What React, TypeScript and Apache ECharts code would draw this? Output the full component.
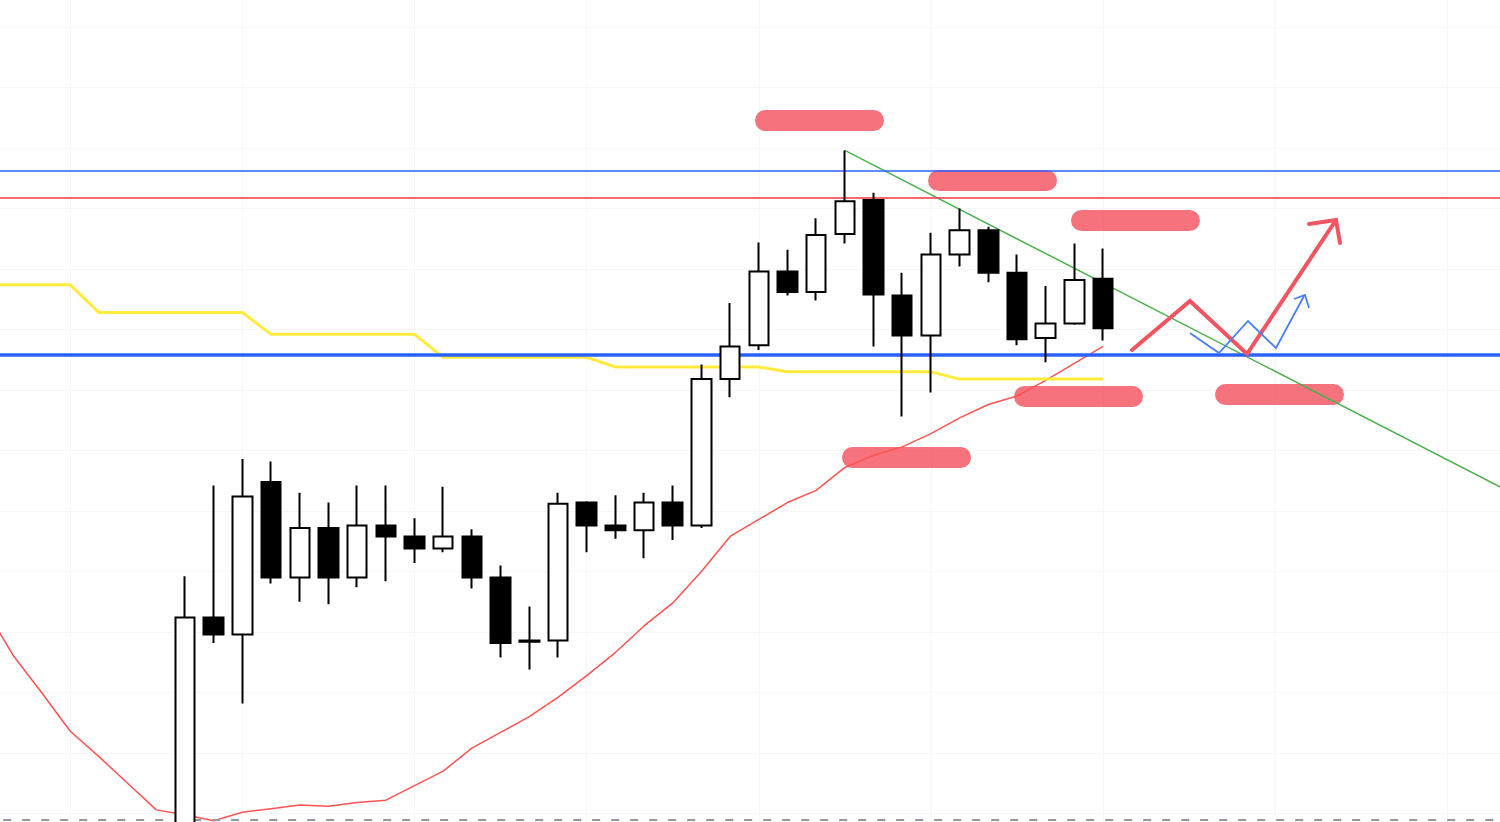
import React, { useEffect, useRef } from "react";
import * as echarts from "echarts";

// Category labels (hidden axis): one per bar slot
const categories = [
  "1", "2", "3", "4", "5", "6", "7", "8", "9", "10",
  "11", "12", "13", "14", "15", "16", "17", "18", "19", "20",
  "21", "22", "23", "24", "25", "26", "27", "28", "29", "30",
  "31", "32", "33", "34", "35", "36", "37", "38", "39", "40",
  "41", "42", "43", "44", "45", "46", "47", "48", "49", "50",
  "51", "52", "53", "54",
];

// Candles begin at slot 7 (earlier ones are below the visible area)
const firstCandleSlot = 7;
// [open, close, low, high]
const candles = [
  [138.95, 141.12, 138.87, 141.46],
  [141.12, 140.98, 140.91, 142.21],
  [140.98, 142.12, 140.41, 142.43],
  [142.24, 141.45, 141.40, 142.41],
  [141.45, 141.86, 141.25, 142.15],
  [141.86, 141.45, 141.23, 142.07],
  [141.45, 141.88, 141.37, 142.21],
  [141.88, 141.79, 141.42, 142.21],
  [141.79, 141.69, 141.57, 141.94],
  [141.69, 141.79, 141.66, 142.20],
  [141.79, 141.45, 141.36, 141.85],
  [141.45, 140.91, 140.79, 141.55],
  [140.93, 140.92, 140.69, 141.21],
  [140.93, 142.06, 140.79, 142.15],
  [142.07, 141.88, 141.66, 142.08],
  [141.88, 141.84, 141.77, 142.13],
  [141.84, 142.07, 141.61, 142.15],
  [142.07, 141.88, 141.76, 142.21],
  [141.88, 143.09, 141.86, 143.21],
  [143.09, 143.36, 142.94, 143.72],
  [143.37, 143.98, 143.33, 144.22],
  [143.98, 143.81, 143.78, 144.16],
  [143.81, 144.28, 143.74, 144.42],
  [144.29, 144.56, 144.21, 144.98],
  [144.57, 143.79, 143.36, 144.63],
  [143.78, 143.45, 142.78, 143.97],
  [143.45, 144.12, 142.98, 144.30],
  [144.12, 144.32, 144.02, 144.50],
  [144.32, 143.97, 143.89, 144.35],
  [143.97, 143.42, 143.37, 144.12],
  [143.43, 143.55, 143.23, 143.86],
  [143.55, 143.91, 143.54, 144.21],
  [143.92, 143.51, 143.41, 144.17],
];

// Moving average (red thin line), slots 0..39
const movingAverage = [
  141.21, 140.81, 140.50, 140.18, 139.97, 139.75, 139.53, 139.49, 139.44, 139.51,
  139.54, 139.57, 139.56, 139.59, 139.61, 139.73, 139.85, 140.04, 140.17, 140.30,
  140.46, 140.64, 140.83, 141.05, 141.24, 141.50, 141.79, 141.93, 142.07, 142.17,
  142.36, 142.46, 142.53, 142.64, 142.77, 142.88, 142.95, 143.08, 143.22, 143.36,
];

// Yellow base line, slots 0..39
const baseLine = [
  143.87, 143.87, 143.87, 143.87, 143.64, 143.64, 143.64, 143.64, 143.64, 143.64,
  143.46, 143.46, 143.46, 143.46, 143.46, 143.46, 143.27, 143.27, 143.27, 143.27,
  143.27, 143.27, 143.19, 143.19, 143.19, 143.19, 143.19, 143.19, 143.15, 143.15,
  143.15, 143.15, 143.15, 143.15, 143.09, 143.09, 143.09, 143.09, 143.09, 143.09,
];

// Horizontal levels
const upperBlueLevel = 144.81;
const redLevel = 144.59;
const supportLevel = 143.29;
const dashedLevel = 139.45;

// Green down trend line: [slot, price]
const trendPoints = [
  [30, 144.98],
  [53, 142.18],
];

// Axis range
const yMin = 139;
const yMax = 147;
const yStep = 0.5;

const pillColor = "rgba(242,54,69,0.7)";
const pills = [
  { x: 755, y: 110 },
  { x: 928, y: 170 },
  { x: 1071, y: 210 },
  { x: 842, y: 447 },
  { x: 1014, y: 386 },
  { x: 1215, y: 384 },
];

// The chart canvas is larger than the viewport; this is its offset
const OFFSET_X = 16;
const OFFSET_Y = 94;

export default function App() {
  const ref = useRef<HTMLDivElement>(null);

  useEffect(() => {
    if (!ref.current) return;
    const chart = echarts.init(ref.current, undefined, { renderer: "svg" });

    const emptyCandle = ["-", "-", "-", "-"];
    const candleData: any[] = [];
    for (let i = 0; i < firstCandleSlot; i++) candleData.push(emptyCandle);
    candles.forEach((c) => candleData.push(c));

    const pillElements = pills.map((p) => ({
      type: "rect",
      z: 1,
      silent: true,
      shape: { x: p.x, y: p.y, width: 129, height: 21, r: 10.5 },
      style: { fill: pillColor },
    }));

    const option: any = {
      animation: false,
      backgroundColor: "#ffffff",
      grid: { left: 0.17, right: 0.26, top: 0, bottom: 0, containLabel: false },
      xAxis: {
        type: "category",
        data: categories,
        boundaryGap: false,
        axisLine: { show: false },
        axisTick: { show: false },
        axisLabel: { show: false },
        splitLine: {
          show: true,
          interval: (index: number) => (index - 3) % 6 === 0,
          lineStyle: { color: "#f7f7f7", width: 1 },
        },
      },
      yAxis: {
        type: "value",
        min: yMin,
        max: yMax,
        interval: yStep,
        axisLine: { show: false },
        axisTick: { show: false },
        axisLabel: { show: false },
        splitLine: { show: true, lineStyle: { color: "#f7f7f7", width: 1 } },
      },
      series: [
        {
          name: "MA",
          type: "line",
          data: movingAverage,
          symbol: "none",
          z: 2,
          lineStyle: { color: "#ff5252", width: 1.5 },
          markLine: {
            silent: true,
            symbol: ["none", "none"],
            label: { show: false },
            data: [
              { yAxis: upperBlueLevel, lineStyle: { color: "#2962ff", width: 1.5, type: "solid" } },
              { yAxis: redLevel, lineStyle: { color: "#f23645", width: 1.5, type: "solid" } },
              { yAxis: supportLevel, lineStyle: { color: "#2962ff", width: 3.5, type: "solid" } },
              { yAxis: dashedLevel, lineStyle: { color: "#9598a1", width: 2, type: [8, 11] } },
            ],
          },
        },
        {
          name: "Base",
          type: "line",
          data: baseLine,
          symbol: "none",
          z: 2,
          lineStyle: { color: "#ffeb3b", width: 3 },
        },
        {
          name: "Trend",
          type: "line",
          data: trendPoints,
          symbol: "none",
          z: 3,
          lineStyle: { color: "#4caf50", width: 1.5 },
        },
        {
          name: "Price",
          type: "candlestick",
          data: candleData,
          barWidth: 20,
          z: 5,
          itemStyle: {
            color: "#ffffff",
            color0: "#000000",
            borderColor: "#000000",
            borderColor0: "#000000",
            borderWidth: 2,
          },
        },
      ],
      graphic: [
        {
          type: "group",
          x: OFFSET_X,
          y: OFFSET_Y,
          children: [
            ...pillElements,
            {
              type: "polyline",
              z: 20,
              silent: true,
              shape: { points: [[1132, 350], [1190, 301], [1247, 354], [1336, 220]] },
              style: { stroke: "#f25461", lineWidth: 4, fill: null, lineJoin: "miter", lineCap: "round" },
            },
            {
              type: "polyline",
              z: 20,
              silent: true,
              shape: { points: [[1309, 224], [1336, 220], [1340, 243]] },
              style: { stroke: "#f25461", lineWidth: 4, fill: null, lineJoin: "miter", lineCap: "round" },
            },
            {
              type: "polyline",
              z: 20,
              silent: true,
              shape: { points: [[1190, 333], [1219, 353], [1248, 321], [1276, 348], [1304, 296]] },
              style: { stroke: "#4a7dff", lineWidth: 1.8, fill: null, lineJoin: "miter" },
            },
            {
              type: "polyline",
              z: 20,
              silent: true,
              shape: { points: [[1294, 299], [1305, 295], [1309, 308]] },
              style: { stroke: "#4a7dff", lineWidth: 1.8, fill: null, lineJoin: "miter" },
            },
          ],
        },
      ],
    };

    chart.setOption(option);
    return () => chart.dispose();
  }, []);

  return (
    <div
      style={{
        position: "fixed",
        left: 0,
        top: 0,
        width: 1500,
        height: 822,
        overflow: "hidden",
        background: "#ffffff",
      }}
    >
      <div
        ref={ref}
        style={{
          position: "absolute",
          left: -OFFSET_X,
          top: -OFFSET_Y,
          width: 1521,
          height: 968,
        }}
      />
    </div>
  );
}
